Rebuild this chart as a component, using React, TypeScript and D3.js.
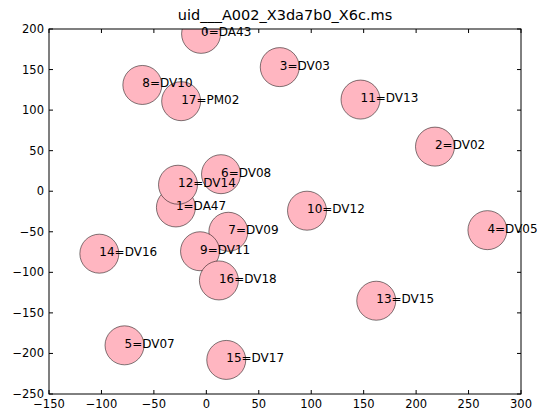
import React from "react";
import * as d3 from "d3";

// Antenna positions (metres, local E/N offsets) and their pad names
const antennaIds = [0, 1, 2, 3, 4, 5, 6, 7, 8, 9, 10, 11, 12, 13, 14, 15, 16, 17];
const padNames = [
  "DA43", "DA47", "DV02", "DV03", "DV05", "DV07", "DV08", "DV09", "DV10",
  "DV11", "DV12", "DV13", "DV14", "DV15", "DV16", "DV17", "DV18", "PM02",
];
const eastOffsets = [-5, -29, 218, 70, 268, -78, 14, 21, -61, -6, 96, 147, -27, 162, -102, 19, 12, -24];
const northOffsets = [194, -20, 55, 153, -48, -190, 21, -50, 131, -74, -24, 113, 8, -135, -77, -208, -110, 111];

const xTicks = [-150, -100, -50, 0, 50, 100, 150, 200, 250, 300];
const yTicks = [-250, -200, -150, -100, -50, 0, 50, 100, 150, 200];

const title = "uid___A002_X3da7b0_X6c.ms";

const W = 537;
const H = 414;
const margin = { left: 49, right: 16, top: 29, bottom: 20 };
const font = "'DejaVu Sans', sans-serif";

export default function App() {
  const x = d3.scaleLinear().domain([-150, 300]).range([margin.left, W - margin.right]);
  const y = d3.scaleLinear().domain([-250, 200]).range([H - margin.bottom, margin.top]);
  const [x0, x1] = x.range();
  const [y0, y1] = [y(200), y(-250)];
  const r = 19.5;
  const tickLen = 4;

  return (
    <svg
      width={W}
      height={H}
      style={{ position: "absolute", left: 0, top: 0, background: "#fff" }}
      fontFamily={font}
    >
      <defs>
        <clipPath id="plot-area">
          <rect x={x0} y={y0} width={x1 - x0} height={y1 - y0} />
        </clipPath>
      </defs>
      <rect x={0} y={0} width={W} height={H} fill="#fff" />

      {/* antenna discs */}
      <g clipPath="url(#plot-area)">
        {antennaIds.map((id, i) => (
          <circle
            key={id}
            cx={x(eastOffsets[i])}
            cy={y(northOffsets[i])}
            r={r}
            fill="#ffb6c1"
            stroke="#000"
            strokeOpacity={0.5}
            strokeWidth={1}
          />
        ))}
      </g>

      {/* ticks (inward on all four sides) */}
      <g stroke="#000" strokeWidth={1}>
        {xTicks.map((t) => (
          <g key={"xt" + t}>
            <line x1={x(t)} x2={x(t)} y1={y1} y2={y1 - tickLen} />
            <line x1={x(t)} x2={x(t)} y1={y0} y2={y0 + tickLen} />
          </g>
        ))}
        {yTicks.map((t) => (
          <g key={"yt" + t}>
            <line x1={x0} x2={x0 + tickLen} y1={y(t)} y2={y(t)} />
            <line x1={x1} x2={x1 - tickLen} y1={y(t)} y2={y(t)} />
          </g>
        ))}
      </g>

      {/* frame */}
      <rect x={x0} y={y0} width={x1 - x0} height={y1 - y0} fill="none" stroke="#000" strokeWidth={1} />

      {/* tick labels */}
      <g fontSize={11.5} fill="#000">
        {xTicks.map((t) => (
          <text key={"xl" + t} x={x(t)} y={y1 + 13.5} textAnchor="middle">
            {d3.format("")(t).replace("-", "\u2212")}
          </text>
        ))}
        {yTicks.map((t) => (
          <text key={"yl" + t} x={x0 - 5} y={y(t) + 4} textAnchor="end">
            {d3.format("")(t).replace("-", "\u2212")}
          </text>
        ))}
      </g>

      {/* antenna labels */}
      <g fontSize={12} fill="#000">
        {antennaIds.map((id, i) => (
          <text key={"lab" + id} x={x(eastOffsets[i])} y={y(northOffsets[i]) + 2.5}>
            {`${id}=${padNames[i]}`}
          </text>
        ))}
      </g>

      <text x={(x0 + x1) / 2} y={20} textAnchor="middle" fontSize={14.5} fill="#000">
        {title}
      </text>
    </svg>
  );
}
